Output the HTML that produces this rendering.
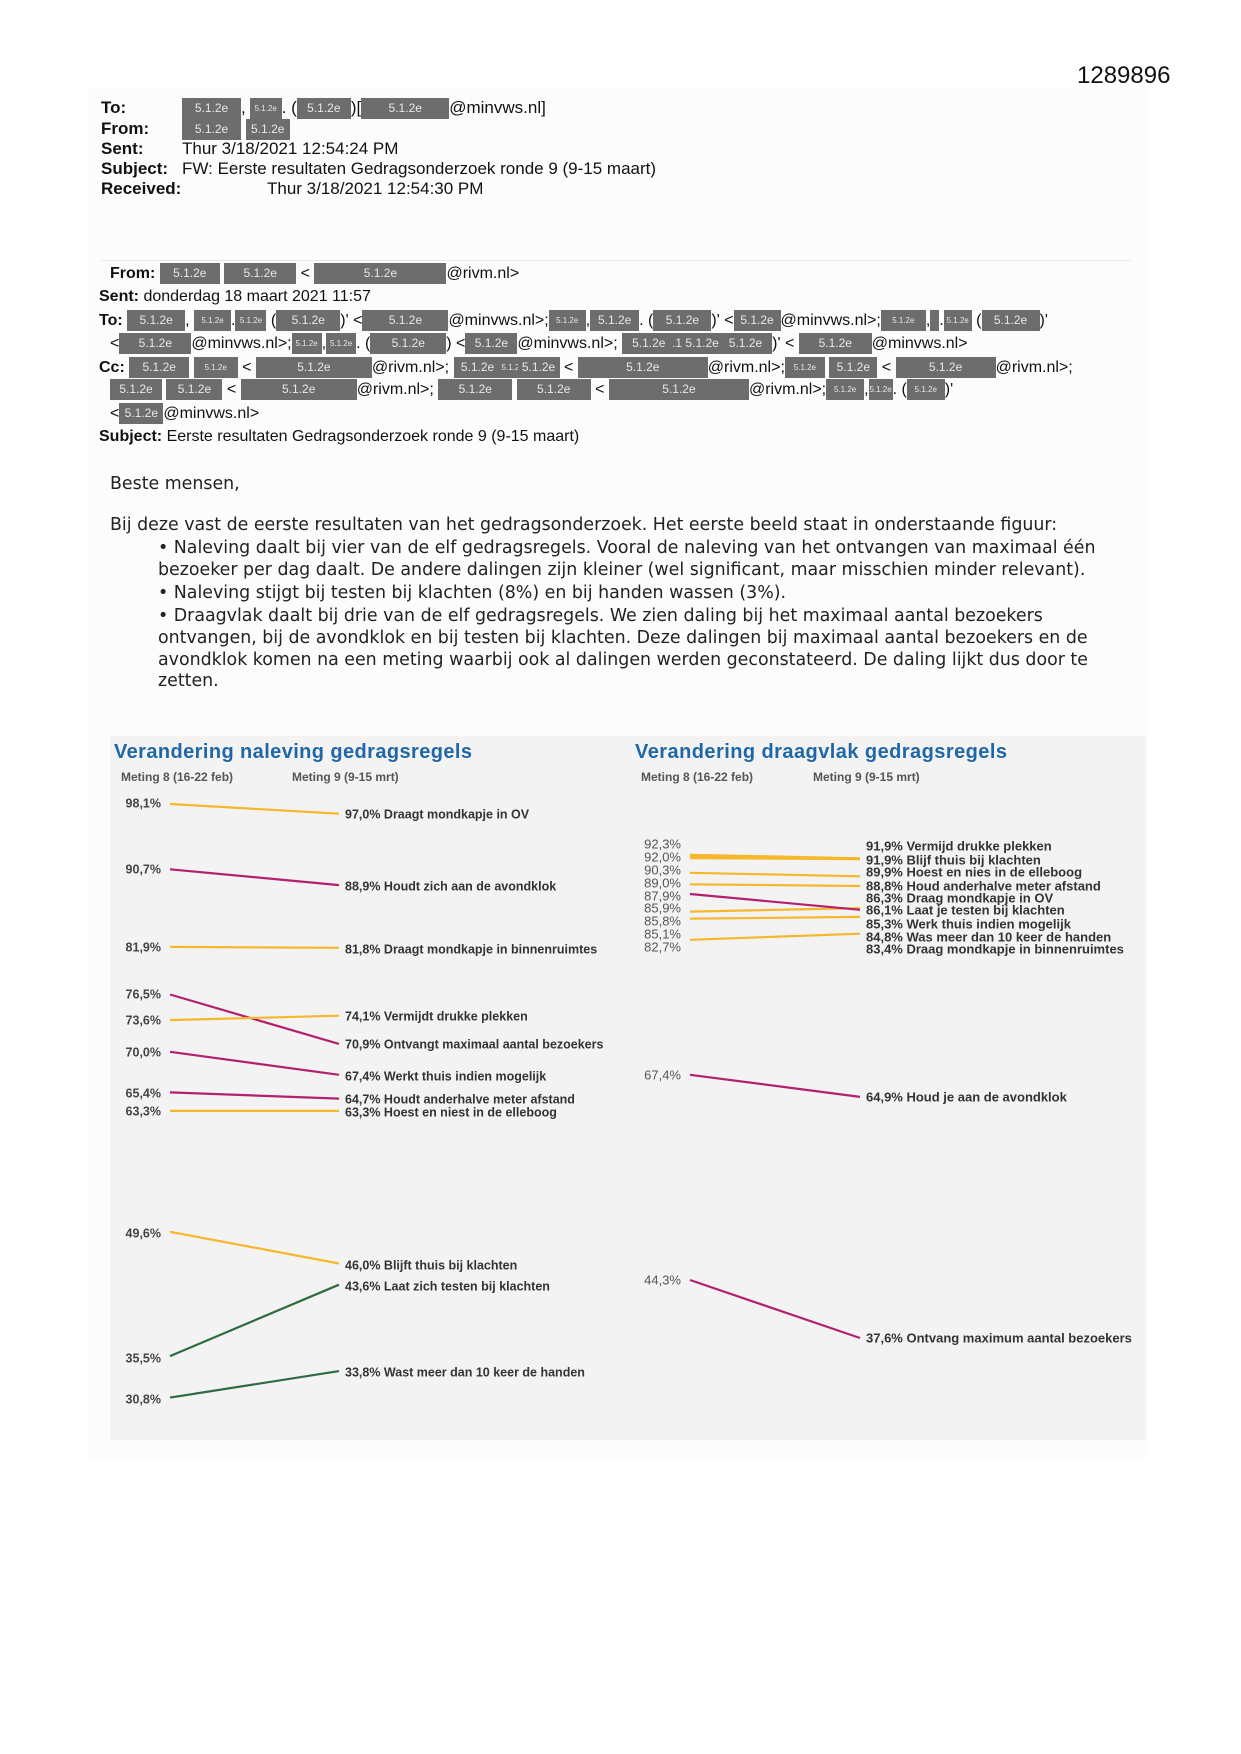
<!DOCTYPE html>
<html><head><meta charset="utf-8">
<style>
body{margin:0;background:#fff;}
#p{position:relative;width:1241px;height:1754px;overflow:hidden;background:#fff;font-family:"Liberation Sans",Arial,sans-serif;color:#111;}
.row{position:absolute;white-space:nowrap;line-height:22px;height:22px;}
.h{font-size:16px;}
.h1{font-size:17px;}
.r{display:inline-block;background:#6d6d6d;color:#e8e8e8;height:21px;line-height:21px;text-align:center;font-size:12px;vertical-align:middle;}
.s{font-size:8px;}
.b{font-weight:bold;}
.t{position:absolute;white-space:nowrap;font-family:"DejaVu Sans",sans-serif;font-size:17.4px;color:#222;line-height:20px;}
</style></head><body><div id="p">
<div style="position:absolute;left:88px;top:88px;width:1060px;height:1370px;background:#fcfcfc"></div>
<div class="row" style="left:1077px;top:62px;font-size:24px;line-height:28px;height:28px;color:#111">1289896</div>

<div class="row h1" style="left:101px;top:97px"><b style="display:inline-block;width:81px">To:</b><span class="r" style="width:59px">5.1.2e</span>,<span class="r s" style="width:32px;margin-left:4px">5.1.2e</span>. (<span class="r" style="width:54px">5.1.2e</span>)[<span class="r" style="width:88px">5.1.2e</span>@minvws.nl]</div>
<div class="row h1" style="left:101px;top:118px"><b style="display:inline-block;width:81px">From:</b><span class="r" style="width:59px">5.1.2e</span> <span class="r" style="width:44px">5.1.2e</span></div>
<div class="row h1" style="left:101px;top:138px"><b style="display:inline-block;width:81px">Sent:</b>Thur 3/18/2021 12:54:24 PM</div>
<div class="row h1" style="left:101px;top:158px"><b style="display:inline-block;width:81px">Subject:</b>FW: Eerste resultaten Gedragsonderzoek ronde 9 (9-15 maart)</div>
<div class="row h1" style="left:101px;top:178px"><b style="display:inline-block;width:166px">Received:</b>Thur 3/18/2021 12:54:30 PM</div>

<div style="position:absolute;left:101px;top:260px;width:1030px;height:1px;background:#e6e6e6"></div>

<div class="row h" style="left:110px;top:263px"><b>From:</b> <span class="r" style="width:60px">5.1.2e</span> <span class="r" style="width:72px">5.1.2e</span> &lt; <span class="r" style="width:132px">5.1.2e</span>@rivm.nl&gt;</div>
<div class="row h" style="left:99px;top:286px"><b>Sent:</b> donderdag 18 maart 2021 11:57</div>
<div class="row h" style="left:99px;top:310px"><b>To:</b> <span class="r" style="width:58px">5.1.2e</span>, <span class="r s" style="width:37px">5.1.2e</span>.<span class="r s" style="width:31px">5.1.2e</span> (<span class="r" style="width:64px">5.1.2e</span>)' &lt;<span class="r" style="width:86px">5.1.2e</span>@minvws.nl&gt;;<span class="r s" style="width:37px">5.1.2e</span>,<span class="r" style="width:49px">5.1.2e</span>. (<span class="r" style="width:58px">5.1.2e</span>)' &lt;<span class="r" style="width:47px">5.1.2e</span>@minvws.nl&gt;;<span class="r s" style="width:45px">5.1.2e</span>,<span class="r s" style="width:9px"></span>.<span class="r s" style="width:28px">5.1.2e</span> (<span class="r" style="width:58px">5.1.2e</span>)'</div>
<div class="row h" style="left:110px;top:333px">&lt;<span class="r" style="width:72px">5.1.2e</span>@minvws.nl&gt;;<span class="r s" style="width:30px">5.1.2e</span>,<span class="r s" style="width:30px">5.1.2e</span>. (<span class="r" style="width:76px">5.1.2e</span>) &lt;<span class="r" style="width:52px">5.1.2e</span>@minvws.nl&gt;; <span class="r" style="width:150px">5.1.2e &nbsp;.1 5.1.2e &nbsp; 5.1.2e</span>)' &lt; <span class="r" style="width:73px">5.1.2e</span>@minvws.nl&gt;</div>
<div class="row h" style="left:99px;top:357px"><b>Cc:</b> <span class="r" style="width:60px">5.1.2e</span> <span class="r s" style="width:44px">5.1.2e</span> &lt; <span class="r" style="width:116px">5.1.2e</span>@rivm.nl&gt;; <span class="r" style="width:48px">5.1.2e</span><span class="r s" style="width:16px">5.1.2e</span><span class="r" style="width:42px">5.1.2e</span> &lt; <span class="r" style="width:130px">5.1.2e</span>@rivm.nl&gt;;<span class="r s" style="width:40px">5.1.2e</span> <span class="r" style="width:48px">5.1.2e</span> &lt; <span class="r" style="width:100px">5.1.2e</span>@rivm.nl&gt;;</div>
<div class="row h" style="left:110px;top:379px"><span class="r" style="width:52px">5.1.2e</span> <span class="r" style="width:56px">5.1.2e</span> &lt; <span class="r" style="width:116px">5.1.2e</span>@rivm.nl&gt;; <span class="r" style="width:74px">5.1.2e</span> <span class="r" style="width:74px">5.1.2e</span> &lt; <span class="r" style="width:140px">5.1.2e</span>@rivm.nl&gt;;<span class="r s" style="width:38px">5.1.2e</span>,<span class="r s" style="width:24px">5.1.2e</span>. (<span class="r s" style="width:38px">5.1.2e</span>)'</div>
<div class="row h" style="left:110px;top:403px">&lt;<span class="r" style="width:44px">5.1.2e</span>@minvws.nl&gt;</div>
<div class="row h" style="left:99px;top:426px"><b>Subject:</b> Eerste resultaten Gedragsonderzoek ronde 9 (9-15 maart)</div>

<div class="t" style="left:110px;top:474px">Beste mensen,</div>
<div class="t" style="left:110px;top:515px">Bij deze vast de eerste resultaten van het gedragsonderzoek. Het eerste beeld staat in onderstaande figuur:</div>
<div class="t" style="left:158px;top:538px">• Naleving daalt bij vier van de elf gedragsregels. Vooral de naleving van het ontvangen van maximaal één</div>
<div class="t" style="left:158px;top:560px">bezoeker per dag daalt. De andere dalingen zijn kleiner (wel significant, maar misschien minder relevant).</div>
<div class="t" style="left:158px;top:583px">• Naleving stijgt bij testen bij klachten (8%) en bij handen wassen (3%).</div>
<div class="t" style="left:158px;top:606px">• Draagvlak daalt bij drie van de elf gedragsregels. We zien daling bij het maximaal aantal bezoekers</div>
<div class="t" style="left:158px;top:628px">ontvangen, bij de avondklok en bij testen bij klachten. Deze dalingen bij maximaal aantal bezoekers en de</div>
<div class="t" style="left:158px;top:650px">avondklok komen na een meting waarbij ook al dalingen werden geconstateerd. De daling lijkt dus door te</div>
<div class="t" style="left:158px;top:671px">zetten.</div>

<svg style="position:absolute;left:0;top:0" width="1241" height="1754" font-family="Liberation Sans, Arial, sans-serif">
<rect x="110" y="736" width="1036" height="704" fill="#f3f3f3"/>
<text x="114" y="758" font-size="20" font-weight="bold" fill="#1f67a6" textLength="358">Verandering naleving gedragsregels</text>
<text x="635" y="758" font-size="20" font-weight="bold" fill="#1f67a6" textLength="372">Verandering draagvlak gedragsregels</text>
<g font-size="12" font-weight="bold" fill="#555">
<text x="121" y="781">Meting 8 (16-22 feb)</text><text x="292" y="781">Meting 9 (9-15 mrt)</text>
<text x="641" y="781">Meting 8 (16-22 feb)</text><text x="813" y="781">Meting 9 (9-15 mrt)</text>
</g>
<g stroke-width="2.2" fill="none">
<line x1="170" y1="804" x2="339" y2="813.7" stroke="#f6b72a"/>
<line x1="170" y1="869.3" x2="339" y2="885.1" stroke="#b3206e"/>
<line x1="170" y1="946.9" x2="339" y2="947.8" stroke="#f6b72a"/>
<line x1="170" y1="994.5" x2="339" y2="1043.9" stroke="#b3206e"/>
<line x1="170" y1="1020.1" x2="339" y2="1015.7" stroke="#f6b72a"/>
<line x1="170" y1="1051.8" x2="339" y2="1074.8" stroke="#b3206e"/>
<line x1="170" y1="1092.4" x2="339" y2="1098.6" stroke="#b3206e"/>
<line x1="170" y1="1110.9" x2="339" y2="1110.9" stroke="#f6b72a"/>
<line x1="170" y1="1231.8" x2="339" y2="1263.5" stroke="#f6b72a"/>
<line x1="170" y1="1356.1" x2="339" y2="1284.7" stroke="#2f6b40"/>
<line x1="170" y1="1397.6" x2="339" y2="1371.1" stroke="#2f6b40"/>
<line x1="690" y1="855.2" x2="860" y2="858.7" stroke="#f6b72a" stroke-width="3"/>
<line x1="690" y1="857.8" x2="860" y2="858.7" stroke="#f6b72a" stroke-width="3"/>
<line x1="690" y1="872.8" x2="860" y2="876.3" stroke="#f6b72a"/>
<line x1="690" y1="884.3" x2="860" y2="886" stroke="#f6b72a"/>
<line x1="690" y1="911.6" x2="860" y2="908.1" stroke="#f6b72a"/>
<line x1="690" y1="918.7" x2="860" y2="916.9" stroke="#f6b72a"/>
<line x1="690" y1="939.8" x2="860" y2="933.7" stroke="#f6b72a"/>
<line x1="690" y1="894" x2="860" y2="909.8" stroke="#b3206e"/>
<line x1="690" y1="1074.8" x2="860" y2="1096.9" stroke="#b3206e"/>
<line x1="690" y1="1280" x2="860" y2="1338" stroke="#b3206e"/>
</g>
<g font-size="12.5" font-weight="bold" fill="#444" text-anchor="end" dominant-baseline="middle">
<text x="161" y="804">98,1%</text><text x="161" y="870">90,7%</text><text x="161" y="948">81,9%</text>
<text x="161" y="995">76,5%</text><text x="161" y="1021">73,6%</text><text x="161" y="1053">70,0%</text>
<text x="161" y="1094">65,4%</text><text x="161" y="1112">63,3%</text><text x="161" y="1234">49,6%</text>
<text x="161" y="1359">35,5%</text><text x="161" y="1400">30,8%</text>
</g>
<g font-size="12.5" font-weight="bold" fill="#333" dominant-baseline="middle">
<text x="345" y="815">97,0% Draagt mondkapje in OV</text>
<text x="345" y="887">88,9% Houdt zich aan de avondklok</text>
<text x="345" y="950">81,8% Draagt mondkapje in binnenruimtes</text>
<text x="345" y="1017">74,1% Vermijdt drukke plekken</text>
<text x="345" y="1045">70,9% Ontvangt maximaal aantal bezoekers</text>
<text x="345" y="1077">67,4% Werkt thuis indien mogelijk</text>
<text x="345" y="1100">64,7% Houdt anderhalve meter afstand</text>
<text x="345" y="1113">63,3% Hoest en niest in de elleboog</text>
<text x="345" y="1266">46,0% Blijft thuis bij klachten</text>
<text x="345" y="1287">43,6% Laat zich testen bij klachten</text>
<text x="345" y="1373">33,8% Wast meer dan 10 keer de handen</text>
</g>
<g font-size="13" fill="#555" text-anchor="end" dominant-baseline="middle">
<text x="681" y="845">92,3%</text><text x="681" y="858">92,0%</text><text x="681" y="871">90,3%</text>
<text x="681" y="884">89,0%</text><text x="681" y="897">87,9%</text><text x="681" y="909">85,9%</text>
<text x="681" y="922">85,8%</text><text x="681" y="935">85,1%</text><text x="681" y="948">82,7%</text>
<text x="681" y="1076">67,4%</text><text x="681" y="1281">44,3%</text>
</g>
<g font-size="13" font-weight="bold" fill="#333" dominant-baseline="middle">
<text x="866" y="847">91,9% Vermijd drukke plekken</text>
<text x="866" y="861">91,9% Blijf thuis bij klachten</text>
<text x="866" y="873">89,9% Hoest en nies in de elleboog</text>
<text x="866" y="887">88,8% Houd anderhalve meter afstand</text>
<text x="866" y="899">86,3% Draag mondkapje in OV</text>
<text x="866" y="911">86,1% Laat je testen bij klachten</text>
<text x="866" y="925">85,3% Werk thuis indien mogelijk</text>
<text x="866" y="938">84,8% Was meer dan 10 keer de handen</text>
<text x="866" y="950">83,4% Draag mondkapje in binnenruimtes</text>
<text x="866" y="1098">64,9% Houd je aan de avondklok</text>
<text x="866" y="1339">37,6% Ontvang maximum aantal bezoekers</text>
</g>
</svg>
</div></body></html>
